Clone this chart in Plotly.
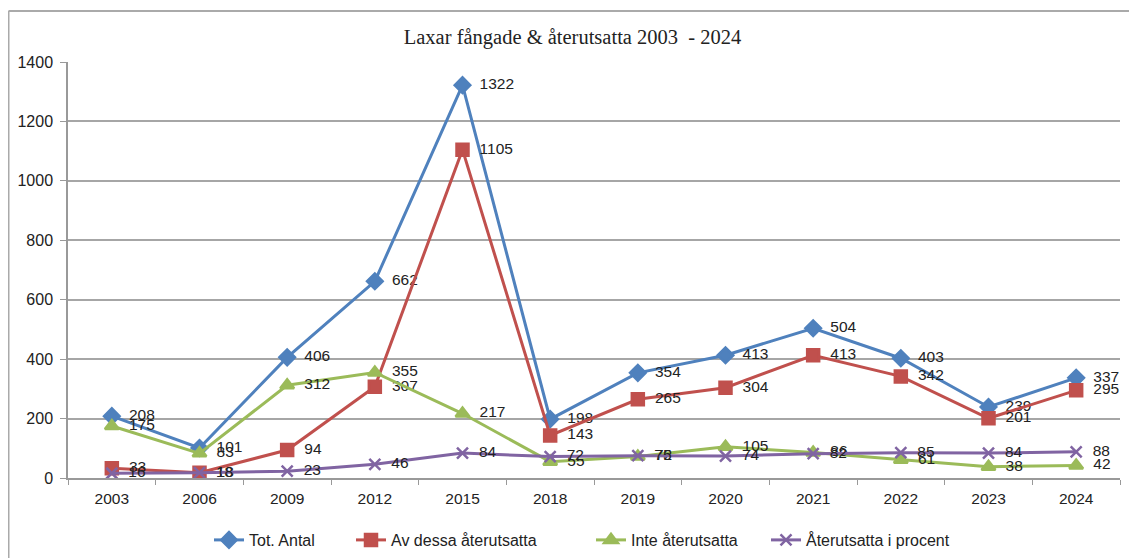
import plotly.graph_objects as go

years = ["2003", "2006", "2009", "2012", "2015", "2018", "2019", "2020", "2021", "2022", "2023", "2024"]
tot_antal = [208, 101, 406, 662, 1322, 198, 354, 413, 504, 403, 239, 337]
av_dessa = [33, 18, 94, 307, 1105, 143, 265, 304, 413, 342, 201, 295]
inte_ater = [175, 83, 312, 355, 217, 55, 72, 105, 86, 61, 38, 42]
procent = [16, 18, 23, 46, 84, 72, 75, 74, 82, 85, 84, 88]
y_ticks = [0, 200, 400, 600, 800, 1000, 1200, 1400]

# figure is placed at (8, 8) on the page by the default body margin
W, H = 1129, 550
ml, mr, mt, mb = 60, 17, 54, 80
pw, ph = W - ml - mr, H - mt - mb

series = [
    ("Tot. Antal", tot_antal, "#4F81BD", "diamond", 12, "legend", 201),
    ("Av dessa återutsatta", av_dessa, "#C0504D", "square", 12, "legend2", 343),
    ("Inte återutsatta", inte_ater, "#9BBB59", "triangle-up", 12, "legend3", 583),
    ("Återutsatta i procent", procent, "#8064A2", "x-thin-open", 11, "legend4", 758),
]

fig = go.Figure()
legend_layouts = {}
for name, vals, col, sym, sz, lg, lx in series:
    fig.add_trace(go.Scatter(
        x=years, y=vals, name=name, mode="lines+markers+text",
        line=dict(color=col, width=3),
        marker=dict(color=col, symbol=sym, size=sz, line=dict(color=col, width=2.5)),
        text=["  " + str(v) for v in vals], textposition="middle right",
        textfont=dict(family="Liberation Sans, Arial", size=15.5, color="#222222"),
        cliponaxis=False, legend=lg,
    ))
    legend_layouts[lg] = dict(
        orientation="h", x=(lx - ml) / pw, xanchor="left",
        y=-(532 - (H - mb)) / ph, yanchor="middle",
        font=dict(family="Liberation Sans, Arial", size=16, color="#222222"),
        bgcolor="rgba(0,0,0,0)",
    )

fig.update_layout(
    width=W, height=H,
    margin=dict(l=ml, r=mr, t=mt, b=mb, autoexpand=False),
    paper_bgcolor="white", plot_bgcolor="white",
    title=dict(text="Laxar fångade & återutsatta 2003  - 2024", x=0.5, xanchor="center",
               y=1 - 29 / H, yanchor="middle",
               font=dict(family="Liberation Serif, Times New Roman", size=20.5, color="#222222")),
    font=dict(family="Liberation Sans, Arial", size=15, color="#222222"),
    xaxis=dict(type="category", range=[-0.5, len(years) - 0.5], showgrid=False, showline=True,
               linecolor="#999999", linewidth=1.5,
               ticks="outside", tickson="boundaries", ticklen=5, tickcolor="#999999",
               ticklabelstandoff=6, tickfont=dict(size=15.5), automargin=False),
    yaxis=dict(range=[0, 1400], tickvals=y_ticks, showgrid=True, gridcolor="#A6A6A6", gridwidth=1.5,
               showline=True, linecolor="#999999", linewidth=1.5, ticks="outside", ticklen=6,
               tickcolor="#999999", zeroline=False, ticklabelstandoff=4,
               tickfont=dict(size=16), automargin=False),
    showlegend=True,
    **legend_layouts,
)

# outer chart frame (left and top edges visible)
fig.add_shape(type="line", xref="paper", yref="paper",
              x0=(0.5 - ml) / pw, x1=(0.5 - ml) / pw, y0=-mb / ph, y1=(H - mb - 3) / ph,
              line=dict(color="#AAAAAA", width=2))
fig.add_shape(type="line", xref="paper", yref="paper",
              x0=(0.5 - ml) / pw, x1=(W - ml) / pw, y0=(H - mb - 3) / ph, y1=(H - mb - 3) / ph,
              line=dict(color="#AAAAAA", width=2))

fig.write_html("out.html")
